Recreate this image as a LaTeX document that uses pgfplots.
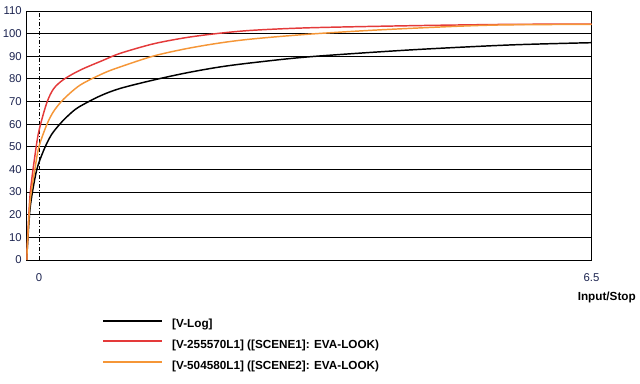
\documentclass[border=0pt]{standalone}
\usepackage{pgfplots}
\pgfplotsset{compat=1.18}
\usepackage{fontspec}
\setmainfont{Liberation Sans}
\definecolor{tickblue}{RGB}{28,36,80}
\definecolor{vred}{RGB}{228,58,58}
\definecolor{vorange}{RGB}{245,150,55}
\begin{document}
\begin{tikzpicture}
\useasboundingbox (-19.875pt,-92.25pt) rectangle (460.125pt,195pt);
\begin{axis}[
  scale only axis,
  width=423.75pt, height=186.75pt,
  at={(0pt,0pt)}, anchor=south west,
  xmin=-0.146, xmax=6.5, ymin=0, ymax=110,
  ytick={0,10,...,110},
  xtick={0,6.5}, xticklabels={0,6.5},
  major tick length=0pt,
  /pgf/number format/assume math mode=true,
  xmajorgrids, ymajorgrids,
  y grid style={black, line width=0.75pt},
  x grid style={black, line width=0.6pt, dash pattern=on 3pt off 1.5pt on 0.75pt off 1.5pt},
  axis line style={black, line width=0.75pt},
  tick label style={font=\fontsize{8.5}{10}\selectfont, text=tickblue, inner sep=0pt},
  yticklabel style={xshift=-3.4pt},
  xticklabel style={yshift=-10.3pt},
  xlabel={\textbf{Input/Stop}},
  every axis x label/.style={at={(rel axis cs:1,0)}, anchor=east, xshift=33.4pt, yshift=-27.75pt, inner sep=0pt, font=\fontsize{8.8}{10}\selectfont},
  legend cell align=left,
  legend image code/.code={\draw[#1,line width=1.5pt] (0pt,3.1pt) -- (44pt,3.1pt);},
  legend style={draw=none, fill=none, at={(0.134,-0.343)}, anchor=west, inner sep=0pt, outer sep=0pt,
    row sep=6.95pt, font=\fontsize{8.8}{10}\selectfont\bfseries,
    nodes={inner sep=0pt, text height=6.6pt, text depth=1.9pt},
    /tikz/every odd column/.append style={column sep=7pt}},
  every axis plot/.append style={line width=1.1pt, smooth, tension=0.5},
]
\addplot[black] coordinates {
(-0.143,0) (-0.132,8) (-0.102,23.5) (-0.0435,36.8) (0,43) (0.074,50) (0.150,55.5) (0.250,60.2) (0.350,64) (0.466,67.5) (0.721,72.5) (0.956,75.8) (1.347,79.5) (1.740,82.7) (2.132,85.3) (2.523,87.2) (3.190,89.8) (4.364,92.8) (5.541,95) (6.5,96)};
\addlegendentry{[V-Log]}
\addplot[vred] coordinates {
(-0.143,0) (-0.132,10) (-0.102,29.6) (-0.0435,47) (0,57) (0.0905,69.2) (0.172,75.6) (0.289,79.7) (0.486,83.9) (0.760,88.3) (0.956,91.3) (1.347,95.5) (1.740,98.3) (2.132,100.2) (2.523,101.5) (3.190,102.6) (4.364,103.5) (5.541,104.1) (6.5,104.2)};
\addlegendentry{[V-255570L1] ([SCENE1]: EVA-LOOK)}
\addplot[vorange] coordinates {
(-0.143,0) (-0.132,9) (-0.102,26.5) (-0.0435,41) (0,50) (0.0905,59.6) (0.172,65.6) (0.289,71) (0.486,77.3) (0.760,82.5) (0.956,85.3) (1.347,90.1) (1.740,93.4) (2.132,95.9) (2.523,97.7) (3.190,99.8) (3.974,101.6) (4.952,103.3) (5.541,103.9) (6.5,104.1)};
\addlegendentry{[V-504580L1] ([SCENE2]: EVA-LOOK)}
\draw[line width=1.5pt, black] (rel axis cs:0,1) -- (rel axis cs:1,1);
\end{axis}
\end{tikzpicture}
\end{document}
